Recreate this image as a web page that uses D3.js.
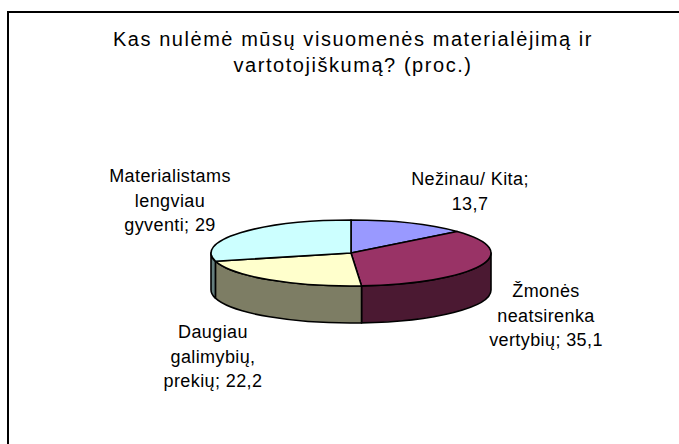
<!DOCTYPE html>
<html>
<head>
<meta charset="utf-8">
<script src="https://cdn.jsdelivr.net/npm/d3@7"></script>
<style>
  html, body { margin: 0; padding: 0; background: #fff; }
  svg { display: block; font-family: "Liberation Sans", Arial, sans-serif; }
</style>
</head>
<body>
<div id="chart"></div>
<script>
// data
const categories = ["Nežinau/ Kita", "Žmonės neatsirenka vertybių", "Daugiau galimybių, prekių", "Materialistams lengviau gyventi"]
const values = [13.7, 35.1, 22.2, 29]
const labelLines = [
  ["Nežinau/ Kita;", "13,7"],
  ["Žmonės", "neatsirenka", "vertybių; 35,1"],
  ["Daugiau", "galimybių,", "prekių; 22,2"],
  ["Materialistams", "lengviau", "gyventi; 29"]
]
const topColors = ["#9999FF", "#993366", "#FFFFCC", "#CCFFFF"]
const titleLines = ["Kas nulėmė mūsų visuomenės materialėjimą ir", "vartotojiškumą? (proc.)"]

const width = 679, height = 444
const cx = 351, cy = 253, rx = 140, ry = 33, depth = 37
const lineH = 24.5
// label block positions (center x, first baseline) relative to pie center
const labelPos = [[119, -68], [195, 44], [-138, 85], [-181, -71]]

const color = d3.scaleOrdinal(topColors).domain(categories)
const sideColor = d => d3.color(color(d)).darker(2.0)

const svg = d3.select("#chart").append("svg")
  .attr("width", width)
  .attr("height", height)

svg.append("rect")
  .attr("x", 8).attr("y", 12)
  .attr("width", 720).attr("height", 500)
  .attr("fill", "white")
  .attr("stroke", "#000")
  .attr("stroke-width", 2)

svg.append("g").selectAll("text")
  .data(titleLines)
  .join("text")
  .attr("x", 353)
  .attr("y", (d, i) => 46 + i * 25.5)
  .attr("text-anchor", "middle")
  .style("font-size", "20px")
  .style("letter-spacing", "1.55px")
  .text(d => d)

const pie = d3.pie().sort(null).value(d => d.value)
const arcs = pie(categories.map((c, i) => ({ name: c, value: values[i] })))

const pt = (a, dy = 0) => [cx + rx * Math.sin(a), cy - ry * Math.cos(a) + dy]

function topPath(d) {
  const p0 = pt(d.startAngle), p1 = pt(d.endAngle)
  const large = d.endAngle - d.startAngle > Math.PI ? 1 : 0
  return `M${cx},${cy}L${p0}A${rx},${ry} 0 ${large} 1 ${p1}Z`
}

function sidePath(d) {
  const a0 = Math.max(d.startAngle, Math.PI / 2)
  const a1 = Math.min(d.endAngle, Math.PI * 1.5)
  if (a1 <= a0) return null
  const p0 = pt(a0), p1 = pt(a1), q1 = pt(a1, depth), q0 = pt(a0, depth)
  return `M${p0}A${rx},${ry} 0 0 1 ${p1}L${q1}A${rx},${ry} 0 0 0 ${q0}Z`
}

const g = svg.append("g")

g.append("g").selectAll("path")
  .data(arcs.filter(d => sidePath(d)))
  .join("path")
  .attr("d", sidePath)
  .attr("fill", d => sideColor(d.data.name))
  .attr("stroke", "#000")
  .attr("stroke-width", 1.6)
  .attr("stroke-linejoin", "round")

g.append("g").selectAll("path")
  .data(arcs)
  .join("path")
  .attr("d", topPath)
  .attr("fill", d => color(d.data.name))
  .attr("stroke", "#000")
  .attr("stroke-width", 1.6)
  .attr("stroke-linejoin", "round")

const labels = svg.append("g").selectAll("text")
  .data(arcs)
  .join("text")
  .attr("text-anchor", "middle")
  .style("font-size", "18px")
  .style("letter-spacing", "0.4px")
  .attr("fill", "#000")

labels.selectAll("tspan")
  .data((d, i) => labelLines[i].map((t, j) => ({ t, j, i })))
  .join("tspan")
  .attr("x", d => cx + labelPos[d.i][0])
  .attr("y", d => cy + labelPos[d.i][1] + d.j * lineH)
  .text(d => d.t)
</script>
</body>
</html>
